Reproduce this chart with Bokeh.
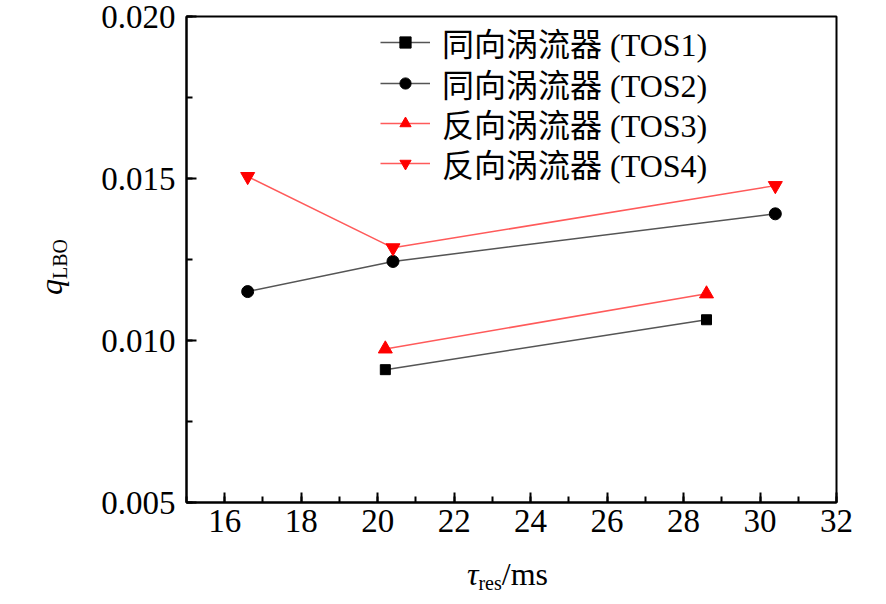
from bokeh.embed import file_html
from bokeh.layouts import column, row
from bokeh.models import (Div, Legend, LegendItem, NumeralTickFormatter,
                          Range1d, SingleIntervalTicker)
from bokeh.plotting import figure
from bokeh.resources import INLINE

# residence time (ms) and lean blow-out fuel/air ratio
tos1_x = [20.2, 28.6]
tos1_y = [0.00910, 0.01064]
tos2_x = [16.6, 20.4, 30.4]
tos2_y = [0.01151, 0.01244, 0.01391]
tos3_x = [20.2, 28.6]
tos3_y = [0.00974, 0.01144]
tos4_x = [16.6, 20.4, 30.4]
tos4_y = [0.01506, 0.01286, 0.01478]

labels = ["同向涡流器 (TOS1)", "同向涡流器 (TOS2)",
          "反向涡流器 (TOS3)", "反向涡流器 (TOS4)"]

SERIF = "Liberation Serif, Noto Sans CJK SC"

fig = figure(width=790, height=546, output_backend="svg", toolbar_location=None,
             x_range=Range1d(15, 32), y_range=Range1d(0.005, 0.020),
             min_border_left=106, min_border_right=34,
             min_border_top=16, min_border_bottom=44)

fig.xgrid.visible = False
fig.ygrid.visible = False
fig.outline_line_color = "black"
fig.outline_line_width = 2
fig.outline_line_alpha = 1

fig.xaxis.ticker = SingleIntervalTicker(interval=2, num_minor_ticks=2)
fig.yaxis.ticker = SingleIntervalTicker(interval=0.005, num_minor_ticks=2)
fig.yaxis.formatter = NumeralTickFormatter(format="0.000")

for ax in (fig.xaxis, fig.yaxis):
    ax.axis_line_width = 2
    ax.major_tick_line_width = 2
    ax.minor_tick_line_width = 2
    ax.major_tick_in = 10
    ax.major_tick_out = 0
    ax.minor_tick_in = 6
    ax.minor_tick_out = 0
    ax.major_label_text_font = SERIF
    ax.major_label_text_font_size = "33px"
    ax.major_label_text_color = "black"
fig.yaxis.major_label_standoff = 11
fig.xaxis.major_label_standoff = 7

BLACK_LINE = "#555555"
RED_LINE = "#ff5a5a"

l1 = fig.line(tos1_x, tos1_y, line_color=BLACK_LINE, line_width=1.5)
m1 = fig.scatter(tos1_x, tos1_y, marker="square", size=10, color="black")
l2 = fig.line(tos2_x, tos2_y, line_color=BLACK_LINE, line_width=1.5)
m2 = fig.scatter(tos2_x, tos2_y, marker="circle", size=12, color="black")
l3 = fig.line(tos3_x, tos3_y, line_color=RED_LINE, line_width=1.5)
m3 = fig.scatter(tos3_x, tos3_y, marker="triangle", size=14, color="red")
l4 = fig.line(tos4_x, tos4_y, line_color=RED_LINE, line_width=1.5)
m4 = fig.scatter(tos4_x, tos4_y, marker="inverted_triangle", size=14, color="red")

# one legend per row so the rows can sit as tightly as in the original
rows = [(labels[0], [l1, m1], 437), (labels[1], [l2, m2], 396),
        (labels[2], [l3, m3], 356), (labels[3], [l4, m4], 316)]
for label, rends, ypos in rows:
    lg = Legend(items=[LegendItem(label=label, renderers=rends)],
                location=(194, ypos), padding=0, margin=0,
                glyph_width=50, glyph_height=28, label_standoff=12,
                label_text_font=SERIF, label_text_font_size="32px",
                label_text_color="black",
                border_line_alpha=0, background_fill_alpha=0)
    fig.add_layout(lg, "center")

# axis titles as html, for the italic symbol and the subscript
FONT = "font-family:'Liberation Serif',serif;color:black;white-space:nowrap;"
xlabel = Div(width=790, height=44, margin=0,
             text=f"<div style=\"{FONT}font-size:32px;line-height:32px;"
                  "margin-left:387px;margin-top:12px;\">"
                  "<i>τ</i><span style=\"font-size:20px;line-height:0;"
                  "vertical-align:-5px;\">res</span>/ms</div>")
ylabel = Div(width=80, height=590, margin=0,
             text=f"<div style=\"{FONT}font-size:32px;line-height:32px;"
                  "margin-left:35px;margin-top:295px;transform:rotate(-90deg);"
                  "transform-origin:0 0;\">"
                  "<i>q</i><span style=\"font-size:20px;line-height:0;"
                  "vertical-align:-5px;\">LBO</span></div>")

p = row(ylabel, column(fig, xlabel, spacing=0), spacing=0)

open("out.html", "w").write(file_html(p, INLINE))
